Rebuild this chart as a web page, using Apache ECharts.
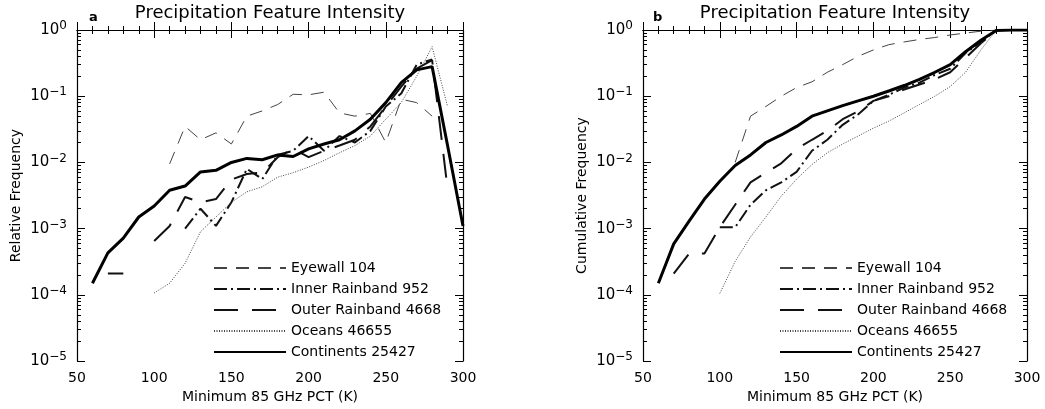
<!DOCTYPE html>
<html>
<head>
<meta charset="utf-8">
<script src="https://cdn.jsdelivr.net/npm/echarts@6/dist/echarts.min.js"></script>
<style>
html, body { margin: 0; padding: 0; background: #fff; }
#chart { width: 1045px; height: 409px; }
</style>
</head>
<body>
<div id="chart"></div>
<script>
// minimum 85 GHz PCT bins (K)
const pct = [60, 70, 80, 90, 100, 110, 120, 130, 140, 150, 160, 170, 180, 190, 200, 210, 220, 230, 240, 250, 260, 270, 280, 290, 300];

const seriesNames = ['Eyewall 104', 'Inner Rainband 952', 'Outer Rainband 4668', 'Oceans 46655', 'Continents 25427'];

// panel a : relative frequency
const eyewallRel = [null, null, null, null, null, 9.5e-3, 3.5e-2, 2.2e-2, 2.8e-2, 1.9e-2, 5e-2, 6e-2, 7.5e-2, 1.07e-1, 1.05e-1, 1.15e-1, 5.6e-2, 5e-2, 5.5e-2, 2e-2, 9e-2, 8e-2, 5e-2, null, null];
const innerRel = [null, null, null, null, 1.05e-3, null, 1.0e-3, 2e-3, 1.1e-3, 2.5e-3, 8e-3, 5.6e-3, 1.3e-2, 1.5e-2, 2.5e-2, 1.5e-2, 2.5e-2, 2e-2, 3e-2, 7e-2, 1.1e-1, 3e-1, 3.6e-1, null, null];
const outerRel = [null, 2.1e-4, 2.1e-4, null, 6.5e-4, 1.1e-3, 3e-3, 2.5e-3, 2.8e-3, 5.5e-3, 6.7e-3, 7e-3, 1.2e-2, 1.6e-2, 1.2e-2, 1.5e-2, 1.8e-2, 2.2e-2, 3.5e-2, 7e-2, 1.4e-1, 2.6e-1, 3.5e-1, 4e-3, null];
const oceansRel = [null, null, null, null, 1.07e-4, 1.5e-4, 3e-4, 9e-4, 1.5e-3, 2.5e-3, 3.6e-3, 4.3e-3, 6e-3, 7e-3, 8.5e-3, 1.07e-2, 1.4e-2, 1.8e-2, 2.5e-2, 4.5e-2, 8e-2, 2e-1, 5.6e-1, 7e-2, null];
const continentsRel = [1.5e-4, 4.3e-4, 7.2e-4, 1.5e-3, 2.2e-3, 3.8e-3, 4.4e-3, 7.2e-3, 7.6e-3, 1.0e-2, 1.15e-2, 1.1e-2, 1.3e-2, 1.23e-2, 1.6e-2, 1.9e-2, 2.2e-2, 3.0e-2, 4.5e-2, 8e-2, 1.6e-1, 2.5e-1, 2.8e-1, 1.8e-2, 1.1e-3];

// panel b : cumulative frequency
const eyewallCum = [null, null, null, null, null, 1e-2, 5e-2, 7e-2, 1e-1, 1.35e-1, 1.65e-1, 2.3e-1, 3e-1, 4e-1, 5e-1, 6e-1, 6.6e-1, 7.2e-1, 7.7e-1, 8.4e-1, 9e-1, 9.6e-1, 1, 1, 1];
const innerCum = [null, null, null, null, 1.05e-3, 1.05e-3, 2.3e-3, 3.8e-3, 5e-3, 7.2e-3, 1.5e-2, 2.2e-2, 3.7e-2, 5.3e-2, 8.5e-2, 1.05e-1, 1.35e-1, 1.6e-1, 2.1e-1, 2.6e-1, 4.5e-1, 6.6e-1, 1, 1, 1];
const outerCum = [null, 2.1e-4, 4.2e-4, 4.2e-4, 1.05e-3, 2.3e-3, 5e-3, 7e-3, 9.7e-3, 1.6e-2, 2.2e-2, 3e-2, 4.5e-2, 5.9e-2, 8.5e-2, 1e-1, 1.26e-1, 1.5e-1, 1.8e-1, 2.3e-1, 3.8e-1, 6.3e-1, 1, 1, 1];
const oceansCum = [null, null, null, null, 1.05e-4, 3.2e-4, 7.5e-4, 1.5e-3, 3.1e-3, 5.6e-3, 9.3e-3, 1.4e-2, 1.9e-2, 2.5e-2, 3.3e-2, 4.2e-2, 5.6e-2, 7.5e-2, 1e-1, 1.4e-1, 2.3e-1, 5e-1, 1, 1, 1];
const continentsCum = [1.5e-4, 5.9e-4, 1.3e-3, 2.8e-3, 5.2e-3, 9e-3, 1.3e-2, 2e-2, 2.6e-2, 3.5e-2, 5e-2, 6e-2, 7.2e-2, 8.5e-2, 1e-1, 1.2e-1, 1.45e-1, 1.8e-1, 2.3e-1, 3e-1, 4.7e-1, 7e-1, 0.98, 1, 1];

const decades = [-5, -4, -3, -2, -1, 0];

const FONT = 'DejaVu Sans';

// minor log ticks (2..9 x 10^n), placed on a helper axis in log10 space
const minorLog = [];
decades.slice(0, -1).forEach(function (e) {
	for (let k = 2; k <= 9; k++) minorLog.push(Math.log10(k) + e);
});

const lineStyles = [
	{ color: '#444', width: 1, type: [13, 9] },
	{ color: '#111', width: 2, type: [13, 4, 2, 4] },
	{ color: '#111', width: 2, type: [24, 14] },
	{ color: '#444', width: 1, type: [1, 1.5] },
	{ color: '#000', width: 3, type: 'solid' }
];

function pairs(vals) {
	return pct.map(function (t, i) { return [t, vals[i] == null ? '-' : vals[i]]; });
}

function makeSeries(grid, list) {
	return list.map(function (vals, i) {
		return {
			name: seriesNames[i],
			type: 'line',
			xAxisIndex: grid * 2,
			yAxisIndex: grid * 4,
			data: pairs(vals),
			symbol: 'none',
			showSymbol: false,
			animation: false,
			itemStyle: { color: lineStyles[i].color },
			lineStyle: lineStyles[i]
		};
	});
}

function xAxes(grid) {
	const base = {
		type: 'value', gridIndex: grid, min: 50, max: 300, interval: 50,
		axisLine: { lineStyle: { color: '#000', width: 1.2 } },
		axisTick: { inside: true, length: 8, lineStyle: { color: '#000' } },
		minorTick: { show: true, splitNumber: 5, length: 4, lineStyle: { color: '#000' } },
		splitLine: { show: false }
	};
	return [
		Object.assign({}, base, {
			position: 'bottom',
			name: 'Minimum 85 GHz PCT (K)',
			nameLocation: 'middle',
			nameGap: 28,
			nameTextStyle: { color: '#000', fontFamily: FONT, fontSize: 14 },
			axisLabel: { color: '#000', fontFamily: FONT, fontSize: 14, margin: 10 }
		}),
		Object.assign({}, base, { position: 'top', axisLabel: { show: false } })
	];
}

function yAxes(grid, title) {
	const logBase = {
		type: 'log', gridIndex: grid, min: 1e-5, max: 1, logBase: 10,
		axisLine: { lineStyle: { color: '#000', width: 1.2 } },
		axisTick: { inside: true, length: 8, lineStyle: { color: '#000' } },
		splitLine: { show: false }
	};
	const minorBase = {
		type: 'value', gridIndex: grid, min: -5, max: 0, interval: 1,
		axisLine: { show: false },
		axisLabel: { show: false },
		axisTick: { inside: true, length: 4, customValues: minorLog, lineStyle: { color: '#000' } },
		splitLine: { show: false }
	};
	return [
		Object.assign({}, logBase, {
			position: 'left',
			name: title,
			nameLocation: 'middle',
			nameGap: 54,
			nameTextStyle: { color: '#000', fontFamily: FONT, fontSize: 14 },
			axisLabel: {
				color: '#000', fontFamily: FONT, fontSize: 15, margin: 10,
				formatter: function (v) {
					const e = Math.round(Math.log10(v));
					return '10{s|' + (e < 0 ? '\u2212' + (-e) : e) + '}';
				},
				rich: { s: { fontFamily: FONT, fontSize: 12, color: '#000', padding: [0, 0, 8, 0] } }
			}
		}),
		Object.assign({}, logBase, { position: 'right', axisLabel: { show: false } }),
		Object.assign({}, minorBase, { position: 'left' }),
		Object.assign({}, minorBase, { position: 'right' })
	];
}

const chart = echarts.init(document.getElementById('chart'));

const option = {
	backgroundColor: '#fff',
	animation: false,
	title: [
		{ text: 'Precipitation Feature Intensity', left: 270, top: 4, textAlign: 'center', padding: 0,
			textStyle: { color: '#000', fontFamily: FONT, fontSize: 18, fontWeight: 'normal' } },
		{ text: 'a', left: 89, top: 11, padding: 0,
			textStyle: { color: '#000', fontFamily: FONT, fontSize: 13, fontWeight: 'bold' } },
		{ text: 'Precipitation Feature Intensity', left: 835, top: 4, textAlign: 'center', padding: 0,
			textStyle: { color: '#000', fontFamily: FONT, fontSize: 18, fontWeight: 'normal' } },
		{ text: 'b', left: 653, top: 11, padding: 0,
			textStyle: { color: '#000', fontFamily: FONT, fontSize: 13, fontWeight: 'bold' } }
	],
	legend: [0, 1].map(function (g) {
		return {
			data: seriesNames,
			orient: 'vertical',
			left: g === 0 ? 213 : 779,
			top: 261,
			padding: 0,
			itemWidth: 72,
			itemHeight: 14,
			itemGap: 7,
			selectedMode: false,
			itemStyle: { opacity: 0 },
			textStyle: { color: '#000', fontFamily: FONT, fontSize: 14 }
		};
	}),
	grid: [
		{ left: 77, top: 30, width: 386, height: 334 },
		{ left: 643, top: 30, width: 384, height: 333 }
	],
	xAxis: xAxes(0).concat(xAxes(1)),
	yAxis: yAxes(0, 'Relative Frequency').concat(yAxes(1, 'Cumulative Frequency')),
	series: makeSeries(0, [eyewallRel, innerRel, outerRel, oceansRel, continentsRel])
		.concat(makeSeries(1, [eyewallCum, innerCum, outerCum, oceansCum, continentsCum]))
};

chart.setOption(option);
window.addEventListener('resize', function () { chart.resize(); });
</script>
</body>
</html>
